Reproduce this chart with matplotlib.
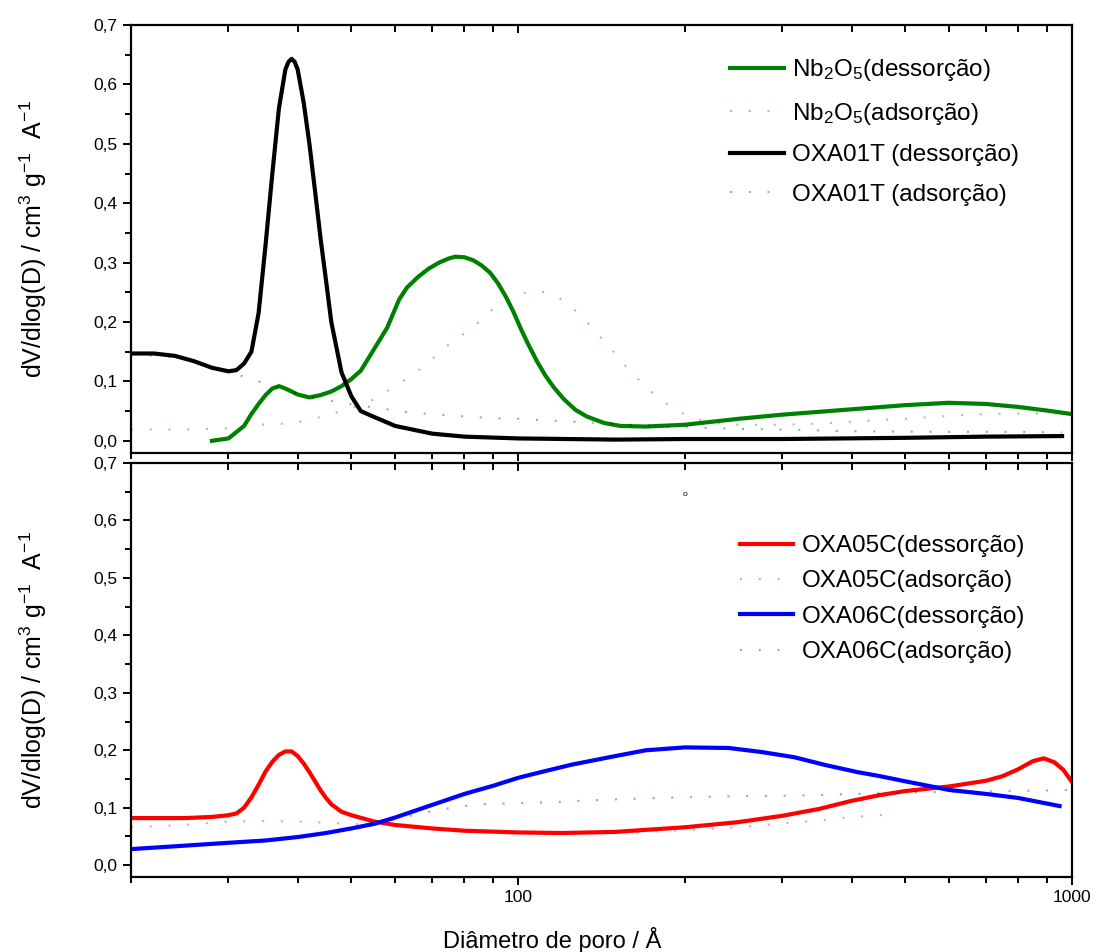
import matplotlib
matplotlib.use('Agg')  # headless
import matplotlib.pyplot as plt
from matplotlib.ticker import FixedLocator, FixedFormatter, NullFormatter, MultipleLocator, FuncFormatter

plt.rcParams['font.family'] = ['Liberation Sans', 'DejaVu Sans']
plt.rcParams['mathtext.fontset'] = 'custom'
plt.rcParams['mathtext.rm'] = 'Liberation Sans'
plt.rcParams['mathtext.it'] = 'Liberation Sans:italic'
plt.rcParams['mathtext.bf'] = 'Liberation Sans:bold'

# ---- top panel: Nb2O5 and OXA01T ----
d_nb_des = [28, 30, 32, 33, 34, 35, 36, 37, 38, 39, 40, 42, 44, 46, 48, 50, 52, 55, 58, 61, 63, 66,
            69, 72, 75, 77, 80, 83, 86, 89, 92, 95, 98, 101, 104, 108, 112, 116, 121, 127, 133, 143,
            153, 170, 200, 250, 300, 400, 500, 600, 700, 800, 900, 1000]
v_nb_des = [0.0, 0.004, 0.025, 0.045, 0.062, 0.077, 0.088, 0.092, 0.088, 0.083, 0.078, 0.073, 0.077,
            0.083, 0.092, 0.104, 0.118, 0.155, 0.19, 0.238, 0.258, 0.276, 0.290, 0.300, 0.307, 0.310,
            0.309, 0.304, 0.295, 0.283, 0.265, 0.243, 0.218, 0.19, 0.165, 0.135, 0.11, 0.09, 0.07,
            0.052, 0.041, 0.03, 0.025, 0.024, 0.027, 0.037, 0.044, 0.053, 0.06, 0.064, 0.062, 0.057,
            0.051, 0.045]

d_nb_ads = [20, 25, 30, 34, 38, 40, 44, 48, 50, 55, 60, 65, 70, 75, 80, 85, 90, 95, 100, 105, 110,
            120, 130, 140, 150, 160, 180, 200, 220, 250, 300, 350, 400, 450, 500, 600, 700, 800, 950]
v_nb_ads = [0.019, 0.019, 0.021, 0.027, 0.029, 0.031, 0.040, 0.050, 0.055, 0.07, 0.092, 0.113, 0.138,
            0.162, 0.181, 0.2, 0.222, 0.236, 0.246, 0.251, 0.252, 0.238, 0.211, 0.177, 0.146, 0.115,
            0.07, 0.044, 0.031, 0.027, 0.027, 0.029, 0.032, 0.035, 0.037, 0.042, 0.045, 0.046, 0.046]

d_t01_des = [20, 22, 24, 26, 28, 30, 31, 32, 33, 34, 35, 36, 37, 38, 38.5, 39, 39.5, 40, 41, 42, 43,
             44, 45, 46, 48, 50, 52, 55, 60, 70, 80, 100, 150, 200, 300, 500, 700, 960]
v_t01_des = [0.147, 0.147, 0.143, 0.134, 0.123, 0.117, 0.119, 0.13, 0.15, 0.215, 0.33, 0.45, 0.56,
             0.625, 0.638, 0.643, 0.638, 0.625, 0.57, 0.50, 0.42, 0.34, 0.27, 0.20, 0.115, 0.075,
             0.05, 0.04, 0.025, 0.012, 0.007, 0.004, 0.002, 0.003, 0.003, 0.005, 0.007, 0.008]

d_t01_ads = [20, 25, 28, 30, 32, 35, 38, 40, 42, 45, 48, 55, 60, 65, 70, 80, 90, 100, 120, 140, 160,
             200, 250, 300, 400, 600, 800, 960]
v_t01_ads = [0.146, 0.139, 0.123, 0.116, 0.108, 0.096, 0.085, 0.079, 0.074, 0.069, 0.064, 0.056,
             0.051, 0.047, 0.045, 0.041, 0.038, 0.037, 0.033, 0.030, 0.027, 0.023, 0.020, 0.019,
             0.016, 0.015, 0.015, 0.014]

# ---- bottom panel: OXA05C and OXA06C ----
d_c05_des = [20, 25, 28, 30, 31, 32, 33, 34, 35, 36, 37, 38, 39, 40, 41, 42, 43, 44, 45, 46, 48, 50,
             55, 60, 70, 80, 100, 120, 150, 200, 250, 300, 350, 400, 450, 500, 600, 700, 750, 800,
             850, 890, 930, 965, 1000]
v_c05_des = [0.082, 0.082, 0.084, 0.087, 0.09, 0.1, 0.118, 0.14, 0.163, 0.18, 0.192, 0.198, 0.198,
             0.19, 0.177, 0.162, 0.146, 0.13, 0.117, 0.106, 0.093, 0.087, 0.076, 0.07, 0.064, 0.06,
             0.057, 0.056, 0.058, 0.066, 0.075, 0.086, 0.098, 0.112, 0.122, 0.129, 0.137, 0.147,
             0.155, 0.167, 0.181, 0.186, 0.179, 0.166, 0.145]

d_c05_ads = [20, 25, 30, 35, 40, 45, 50, 55, 60, 70, 80, 100, 120, 150, 170, 200, 250, 300, 350, 400,
             450, 480]
v_c05_ads = [0.066, 0.07, 0.076, 0.077, 0.076, 0.074, 0.072, 0.07, 0.068, 0.064, 0.06, 0.057, 0.056,
             0.057, 0.058, 0.061, 0.066, 0.073, 0.078, 0.084, 0.087, 0.089]

d_c06_des = [20, 25, 30, 35, 40, 45, 50, 55, 60, 70, 80, 90, 100, 110, 125, 150, 170, 200, 240, 275,
             315, 360, 410, 450, 500, 600, 700, 800, 950]
v_c06_des = [0.028, 0.034, 0.039, 0.043, 0.049, 0.056, 0.064, 0.072, 0.083, 0.105, 0.124, 0.138,
             0.152, 0.162, 0.175, 0.19, 0.2, 0.205, 0.204, 0.197, 0.188, 0.174, 0.162, 0.155, 0.146,
             0.131, 0.124, 0.117, 0.103]

d_c06_ads = [20, 30, 40, 50, 60, 65, 70, 75, 80, 86, 100, 117, 136, 155, 195, 245, 305, 350, 400, 550,
             800, 990]
v_c06_ads = [0.028, 0.039, 0.049, 0.064, 0.08, 0.088, 0.094, 0.099, 0.103, 0.106, 0.108, 0.11, 0.113,
             0.115, 0.118, 0.12, 0.121, 0.122, 0.124, 0.127, 0.129, 0.131]

ylabel = 'dV/dlog(D) / cm$^{3}$ g$^{-1}$  A$^{-1}$'
dots = (0, (1, 8))


def style_axes(ax, show_xlabels):
    ax.set_xscale('log')
    ax.set_xlim(20, 1000)
    ax.xaxis.set_major_locator(FixedLocator([100, 1000]))
    ax.xaxis.set_minor_locator(FixedLocator([20, 30, 40, 50, 60, 70, 80, 90,
                                             200, 300, 400, 500, 600, 700, 800, 900]))
    if show_xlabels:
        ax.xaxis.set_major_formatter(FixedFormatter(['100', '1000']))
    else:
        ax.xaxis.set_major_formatter(NullFormatter())
    ax.xaxis.set_minor_formatter(NullFormatter())
    ax.yaxis.set_major_locator(MultipleLocator(0.1))
    ax.yaxis.set_minor_locator(MultipleLocator(0.05))
    ax.yaxis.set_major_formatter(FuncFormatter(lambda v, p: ('%.1f' % v).replace('.', ',')))
    ax.tick_params(axis='both', which='major', length=6, width=1.4, labelsize=12.5)
    ax.tick_params(axis='both', which='minor', length=4, width=1.4)
    ax.tick_params(axis='y', which='both', direction='out', right=False)
    ax.tick_params(axis='x', which='both', direction='out', top=False)
    for s in ax.spines.values():
        s.set_linewidth(1.6)
    ax.set_ylabel(ylabel, fontsize=18, labelpad=32)
    # mirrored top ticks pointing inward
    tw = ax.twiny()
    tw.set_xscale('log')
    tw.set_xlim(ax.get_xlim())
    tw.xaxis.set_major_locator(FixedLocator([100, 1000]))
    tw.xaxis.set_minor_locator(ax.xaxis.get_minor_locator())
    tw.xaxis.set_major_formatter(NullFormatter())
    tw.xaxis.set_minor_formatter(NullFormatter())
    tw.tick_params(axis='x', which='both', direction='in', width=1.4)
    tw.tick_params(axis='x', which='major', length=6)
    tw.tick_params(axis='x', which='minor', length=5)
    for s in tw.spines.values():
        s.set_visible(False)


fig = plt.figure(figsize=(10.96, 9.52), dpi=100)
ax1 = fig.add_axes([0.1195, 0.5245, 0.8585, 0.4492])
ax2 = fig.add_axes([0.1195, 0.0785, 0.8585, 0.4352])

# top panel
ax1.plot(d_nb_des, v_nb_des, color='#008000', lw=3, label='Nb$_2$O$_5$(dessorção)')
ax1.plot(d_nb_ads, v_nb_ads, color='#008000', lw=1.5, alpha=0.4, linestyle=dots, label='Nb$_2$O$_5$(adsorção)')
ax1.plot(d_t01_des, v_t01_des, color='black', lw=3, label='OXA01T (dessorção)')
ax1.plot(d_t01_ads, v_t01_ads, color='black', lw=1.5, alpha=0.35, linestyle=dots, label='OXA01T (adsorção)')
ax1.set_ylim(-0.02, 0.7)
style_axes(ax1, False)
ax1.legend(loc='upper left', bbox_to_anchor=(0.637, 0.925), frameon=False, fontsize=17.5,
           handlelength=2.2, handletextpad=0.35, labelspacing=0.72, borderpad=0, borderaxespad=0)

# bottom panel
ax2.plot(d_c05_des, v_c05_des, color='red', lw=3, label='OXA05C(dessorção)')
ax2.plot(d_c05_ads, v_c05_ads, color='red', lw=1.5, alpha=0.4, linestyle=dots, label='OXA05C(adsorção)')
ax2.plot(d_c06_des, v_c06_des, color='blue', lw=3, label='OXA06C(dessorção)')
ax2.plot(d_c06_ads, v_c06_ads, color='blue', lw=1.5, alpha=0.4, linestyle=dots, label='OXA06C(adsorção)')
ax2.set_ylim(-0.021, 0.7)
style_axes(ax2, True)
ax2.set_xlabel('Diâmetro de poro / Å', fontsize=17)
ax2.xaxis.set_label_coords(0.448, -0.12)
ax2.text(200, 0.645, 'o', fontsize=6, ha='center', va='center')
ax2.legend(loc='upper left', bbox_to_anchor=(0.647, 0.826), frameon=False, fontsize=17.5,
           handlelength=2.2, handletextpad=0.35, labelspacing=0.55, borderpad=0, borderaxespad=0)

fig.savefig('out.png', dpi=100)
plt.close(fig)
